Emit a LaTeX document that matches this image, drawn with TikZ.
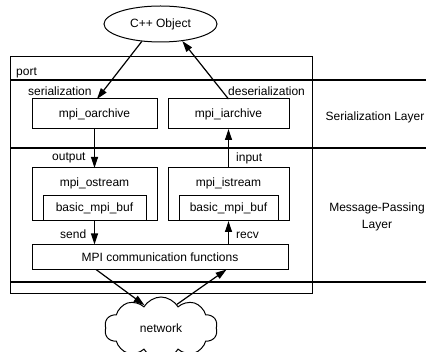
\documentclass[tikz,border=0pt]{standalone}
\usepackage{fontspec}
\setmainfont{Liberation Sans}
\usetikzlibrary{arrows.meta,calc,shapes.geometric,shapes.symbols}

\begin{document}
\begin{tikzpicture}[x=1pt,y=-1pt,
  every node/.style={font=\fontsize{12}{14}\selectfont},
  box/.style={draw,line width=1pt,fill=white,inner sep=0pt,outer sep=0pt},
  txt/.style={inner sep=0pt,outer sep=0pt},
  lbl/.style={inner sep=0pt,anchor=west},
  flow/.style={line width=1.2pt,-{Triangle[length=11pt,width=7pt]}},
  layer/.style={line width=1.3pt}]
\useasboundingbox (0,0) rectangle (426,352);

% enclosing port frame
\node[box,minimum width=302pt,minimum height=237pt] (port) at (161,175.5) {};

% layer separators running out to the right edge
\coordinate (l1) at (426,80);
\coordinate (l2) at (426,148);
\coordinate (l3) at (426,282);
\draw[layer] (port.west |- l1) -- (l1);
\draw[layer] (port.west |- l2) -- (l2);
\draw[layer] (port.west |- l3) -- (l3);

% serialization layer
\node[box,minimum width=125pt,minimum height=30pt] (oarch) at (94.5,114) {mpi\_oarchive};
\node[box,minimum width=121pt,minimum height=30pt] (iarch) at (228.5,114) {mpi\_iarchive};

% message-passing layer
\node[box,minimum width=125pt,minimum height=53pt] (ostream) at (94.5,194.5) {};
\node[txt] (ostreamtxt) at (94.5,183) {mpi\_ostream};
\node[box,minimum width=103pt,minimum height=25pt] (obuf) at (94.5,208.5) {basic\_mpi\_buf};
\node[box,minimum width=121pt,minimum height=53pt] (istream) at (228.5,194.5) {};
\node[txt] (istreamtxt) at (228.5,183) {mpi\_istream};
\node[box,minimum width=99pt,minimum height=25pt] (ibuf) at (228.5,208.5) {basic\_mpi\_buf};
\node[box,minimum width=256pt,minimum height=25pt] (mpi) at (160,257) {MPI communication functions};

% object and network
\node[draw,ellipse,line width=1pt,inner sep=0pt,minimum width=113pt,minimum height=36pt] (obj) at (160.5,24) {C++ Object};
\node[draw,cloud,cloud puffs=10,cloud puff arc=120,aspect=2,line width=1pt,inner sep=0pt,
      minimum width=113pt,minimum height=62pt] (net) at (161,328) {network};

% labels
\node[lbl] (portlbl) at (16,73) {port};
\node[lbl] (serlbl) at (28,91) {serialization};
\node[lbl] (deserlbl) at (228,91) {deserialization};
\node[lbl] (outlbl) at (52,158) {output};
\node[lbl] (inlbl) at (236,158) {input};
\node[lbl] (sendlbl) at (60,234) {send};
\node[lbl] (recvlbl) at (236,235) {recv};
\node[txt] (serlayer) at (375,117) {Serialization Layer};
\node[txt,align=center,font=\fontsize{12}{17}\selectfont] (mplayer) at (377,216.5) {Message-Passing\\Layer};

% data flow
\draw[flow] (obj.223) -- ($(oarch.north)+(2.5,0)$);
\draw[flow] (iarch.north) -- (obj.322);
\draw[flow] (oarch.south) -- (ostream.north);
\draw[flow] (istream.north) -- (iarch.south);
\draw[flow] (obuf.south) -- (obuf.south |- mpi.north);
\draw[flow] (ibuf.south |- mpi.north) -- (ibuf.south);
\draw[flow] ($(mpi.south west)!0.25!(mpi.south east)$) -- (net.126);
\draw[flow] (net.56) -- ($(mpi.south west)!0.76!(mpi.south east)$);
\end{tikzpicture}
\end{document}
